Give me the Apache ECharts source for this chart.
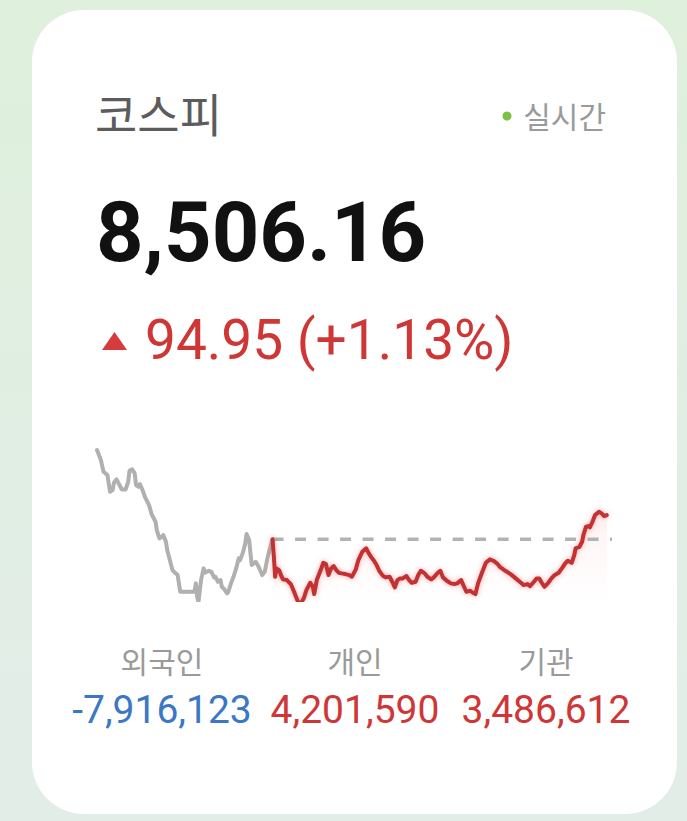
<!DOCTYPE html>
<html>
<head>
<meta charset="utf-8">
<script src="https://cdn.jsdelivr.net/npm/echarts@6/dist/echarts.min.js"></script>
<style>
  html, body { margin: 0; padding: 0; width: 687px; height: 821px; overflow: hidden;
    background: linear-gradient(180deg, #dff0dc 0%, #e1eee4 60%, #e2ede8 100%); }
  #chart { width: 687px; height: 821px; }
</style>
</head>
<body>
<div id="chart"></div>
<script>
// ---- data ----
const indexName = '코스피';
const liveLabel = '실시간';
const currentValue = 8506.16;
const changeValue = 94.95;
const changePct = 1.13;
const prevClose = +(currentValue - changeValue).toFixed(2);

// earlier part of the session (gray), minutes from chart start
const grayTimes = [0,3,5,8,10,12,13,15,18,19,22,24,25,27,29,30,32,33,35,37,40,42,45,46,48,50,51,53,54,56,58,60,62,63,64,67,72,75,76,77,78,80,82,83,86,88,90,91,93,95,96,98,100,101,103,105,107,109,110,112,114,115,117,118,119,121,122,124,126,127,129,131,133,135];
const grayValues = [8760.6,8721.5,8675.7,8662.8,8597.4,8604.1,8632.6,8646.0,8617.0,8606.8,8606.8,8636.6,8679.6,8685.1,8669.4,8623.6,8617.0,8627.6,8604.1,8575.5,8545.4,8510.2,8480.1,8447.6,8415.1,8421.4,8428.0,8401.8,8369.3,8330.2,8291.1,8280.5,8271.5,8239.0,8206.2,8206.2,8206.2,8206.2,8239.0,8186.6,8165.9,8252.0,8297.7,8280.5,8288.3,8284.4,8262.5,8264.9,8245.3,8252.0,8225.7,8215.6,8199.9,8206.2,8239.0,8264.9,8297.7,8336.9,8330.2,8356.4,8395.5,8431.9,8408.5,8356.4,8310.6,8319.6,8323.6,8306.7,8284.4,8271.5,8284.4,8336.9,8376.0,8411.2];

// later part (red)
const redTimes = [135,136,137,138,140,142,143,146,149,151,154,156,159,161,164,166,167,169,172,174,176,178,180,182,184,186,188,191,194,196,199,201,204,207,209,211,213,215,217,220,222,225,227,229,231,233,235,238,240,242,245,247,249,252,254,257,259,262,264,266,269,272,275,277,280,282,284,287,289,291,293,296,299,302,305,308,310,314,318,322,326,328,331,333,336,338,340,342,344,347,350,352,355,358,360,362,365,367,368,371,373,374,376,378,379,381,383,386,388,390,392];
const redValues = [8411.2,8343.1,8264.9,8297.7,8291.1,8264.9,8254.7,8252.0,8236.3,8212.8,8173.7,8154.2,8180.4,8212.8,8241.4,8225.7,8197.2,8252.0,8291.1,8319.6,8314.6,8271.5,8297.7,8306.7,8291.1,8280.5,8278.2,8275.4,8271.5,8264.9,8293.8,8330.2,8362.7,8376.0,8356.4,8340.8,8327.5,8310.6,8288.3,8267.6,8262.5,8264.9,8245.3,8223.4,8252.0,8258.6,8258.6,8267.6,8252.0,8241.4,8245.3,8271.5,8288.3,8278.2,8264.9,8254.7,8262.5,8280.5,8288.3,8262.5,8249.2,8239.0,8236.3,8239.0,8252.0,8228.5,8206.2,8210.1,8202.3,8197.2,8239.0,8280.5,8319.6,8332.9,8327.5,8314.6,8302.8,8288.3,8275.4,8258.6,8241.4,8232.4,8236.3,8228.5,8245.3,8258.6,8258.6,8241.4,8225.7,8241.4,8262.5,8271.5,8280.5,8301.6,8317.3,8327.5,8319.6,8349.8,8376.0,8382.2,8401.8,8428.0,8460.5,8463.2,8458.2,8480.1,8506.3,8519.2,8512.9,8502.4,8506.16];

const baselineTimes = [135, 396];
const axisRange = { xMin: 0, xMax: 396, yMin: 8174, yMax: 8800 };

const investorNames = ['외국인', '개인', '기관'];
const investorValues = [-7916123, 4201590, 3486612];

// ---- helpers ----
const fmt = n => n.toLocaleString('en-US');
const pairs = (xs, ys) => xs.map((x, i) => [x, ys[i]]);

const RED = '#cf3636';
const BLUE = '#3a78c4';
const KR = '"Noto Sans CJK KR", "Noto Sans", sans-serif';
const NUM = 'Roboto, "Noto Sans", sans-serif';

const chart = echarts.init(document.getElementById('chart'), null, { renderer: 'svg' });

const investorCenters = [162, 355, 546];
const investorGraphics = [];
investorNames.forEach((name, i) => {
  investorGraphics.push({
    type: 'text', z: 10,
    style: { x: investorCenters[i], y: 660, text: name, font: '30px ' + KR, fill: '#9a9a9a',
      textAlign: 'center', textVerticalAlign: 'middle' }
  });
  const v = investorValues[i];
  investorGraphics.push({
    type: 'text', z: 10,
    style: { x: investorCenters[i], y: 710, text: fmt(v), font: '39px ' + NUM,
      fill: v < 0 ? BLUE : RED, textAlign: 'center', textVerticalAlign: 'middle' }
  });
});

const option = {
  backgroundColor: 'transparent',
  animation: false,
  grid: { left: 97, right: 75, top: 440, height: 160, containLabel: false },
  xAxis: { type: 'value', min: axisRange.xMin, max: axisRange.xMax, show: false },
  yAxis: { type: 'value', min: axisRange.yMin, max: axisRange.yMax, show: false, scale: true },
  graphic: [
    { type: 'rect', z: -10, shape: { x: 32, y: 10, width: 645, height: 804, r: 52 },
      style: { fill: '#ffffff' } },
    { type: 'text', z: 10, style: { x: 95, y: 112, text: indexName, font: '46px ' + KR,
      fill: '#5c5c5c', textVerticalAlign: 'middle' } },
    { type: 'circle', z: 10, shape: { cx: 507, cy: 116, r: 4.5 }, style: { fill: '#7cc242' } },
    { type: 'text', z: 10, style: { x: 606, y: 115, text: liveLabel, font: '30px ' + KR,
      fill: '#9a9a9a', textAlign: 'right', textVerticalAlign: 'middle' } },
    { type: 'text', z: 10, style: { x: 96, y: 232, text: fmt(currentValue), font: 'bold 83px ' + NUM,
      fill: '#111111', textVerticalAlign: 'middle' } },
    { type: 'polygon', z: 10, shape: { points: [[102, 350], [127, 350], [114.5, 332]] },
      style: { fill: '#d63c3c' } },
    { type: 'text', z: 10, style: { x: 145, y: 340,
      text: changeValue.toFixed(2) + ' (+' + changePct.toFixed(2) + '%)',
      font: '55px ' + NUM, fill: RED, textVerticalAlign: 'middle' } }
  ].concat(investorGraphics),
  series: [
    {
      type: 'line', name: 'before', data: pairs(grayTimes, grayValues),
      symbol: 'none', clip: true, smooth: false,
      lineStyle: { color: '#b0b0b0', width: 4, join: 'round', cap: 'round' }
    },
    {
      type: 'line', name: 'prevClose', data: baselineTimes.map(t => [t, prevClose]),
      symbol: 'none', clip: false,
      lineStyle: { color: '#b3b3b3', width: 3.5, type: [11, 11.5] }
    },
    {
      type: 'line', name: 'after', data: pairs(redTimes, redValues),
      symbol: 'none', clip: true, smooth: false,
      lineStyle: { color: '#c23232', width: 4, join: 'round', cap: 'round',
        shadowBlur: 5, shadowColor: 'rgba(225,70,70,0.45)' },
      areaStyle: { origin: 'start',
        color: new echarts.graphic.LinearGradient(0, 0, 0, 1, [
          { offset: 0, color: 'rgba(240,120,120,0.16)' },
          { offset: 1, color: 'rgba(255,230,230,0.05)' }
        ]) }
    }
  ]
};
chart.setOption(option);
</script>
</body>
</html>
